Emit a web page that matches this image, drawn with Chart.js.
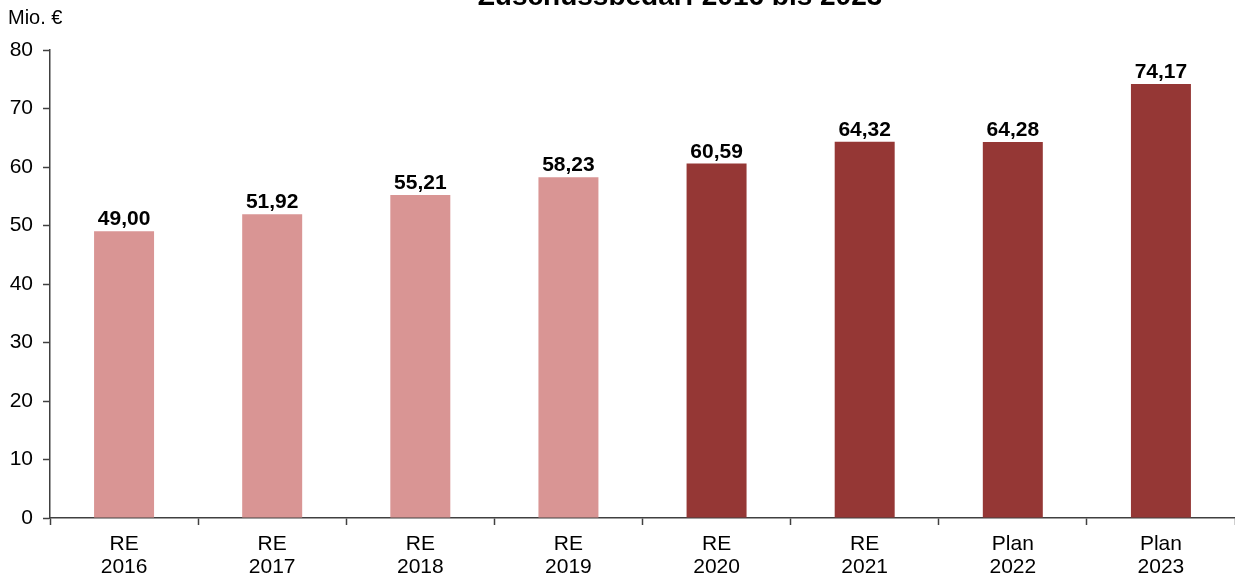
<!DOCTYPE html>
<html lang="de">
<head>
<meta charset="utf-8">
<title>Zuschussbedarf 2016 bis 2023</title>
<script src="https://cdn.jsdelivr.net/npm/chart.js@4/dist/chart.umd.min.js"></script>
<style>
  html, body { margin: 0; padding: 0; background: #ffffff; }
  #wrap { position: relative; width: 1235px; height: 576px; }
</style>
</head>
<body>
<div id="wrap"><canvas id="chart"></canvas></div>
<script>
// Zuschussbedarf in Mio. €
const stages = ["RE", "RE", "RE", "RE", "RE", "RE", "Plan", "Plan"];
const years = ["2016", "2017", "2018", "2019", "2020", "2021", "2022", "2023"];
const values = [49.00, 51.92, 55.21, 58.23, 60.59, 64.32, 64.28, 74.17];
const yTicks = [0, 10, 20, 30, 40, 50, 60, 70, 80];

const titleText = "Zuschussbedarf 2016 bis 2023";
const unitText = "Mio. €";

const lightRed = "#d99594";
const darkRed = "#953735";
const barColors = years.map(y => (Number(y) <= 2019 ? lightRed : darkRed));
const labels = stages.map((s, i) => [s, years[i]]);

const fmt = v => v.toFixed(2).replace(".", ",");

// Headline and unit caption
const captionPlugin = {
  id: "captions",
  afterDraw(chart) {
    const ctx = chart.ctx;
    ctx.save();
    ctx.fillStyle = "#000000";
    ctx.textAlign = "center";
    ctx.textBaseline = "alphabetic";
    ctx.font = "bold 28px 'Liberation Sans', Arial, sans-serif";
    ctx.fillText(titleText, 680, 5);
    ctx.textAlign = "left";
    ctx.font = "20px 'Liberation Sans', Arial, sans-serif";
    ctx.fillText(unitText, 8, 24);
    ctx.restore();
  }
};

// Value labels above each bar
const valueLabelPlugin = {
  id: "valueLabels",
  afterDatasetsDraw(chart) {
    const ctx = chart.ctx;
    const meta = chart.getDatasetMeta(0);
    ctx.save();
    ctx.fillStyle = "#000000";
    ctx.font = "bold 21px 'Liberation Sans', Arial, sans-serif";
    ctx.textAlign = "center";
    ctx.textBaseline = "alphabetic";
    meta.data.forEach((bar, i) => {
      ctx.fillText(fmt(values[i]), bar.x, bar.y - 6);
    });
    ctx.restore();
  }
};

new Chart(document.getElementById("chart"), {
  type: "bar",
  data: {
    labels: labels,
    datasets: [{
      data: values,
      backgroundColor: barColors,
      borderWidth: 0,
      categoryPercentage: 1,
      barPercentage: 0.405
    }]
  },
  options: {
    responsive: true,
    maintainAspectRatio: false,
    animation: false,
    events: [],
    layout: { padding: { top: 50, left: 0, right: 0, bottom: 0 } },
    plugins: {
      legend: { display: false },
      title: { display: false },
      tooltip: { enabled: false }
    },
    scales: {
      x: {
        offset: true,
        grid: {
          offset: true,
          display: true,
          drawOnChartArea: false,
          drawTicks: true,
          tickLength: 7,
          tickWidth: 1.5,
          tickColor: "#404040"
        },
        border: { display: true, color: "#404040", width: 1.5 },
        ticks: {
          color: "#000000",
          padding: 8,
          maxRotation: 0,
          autoSkip: false,
          font: { family: "'Liberation Sans', Arial, sans-serif", size: 21, lineHeight: 1.1 }
        },
        afterFit(scale) { scale.height = 58; }
      },
      y: {
        min: 0,
        max: 80,
        afterBuildTicks(scale) { scale.ticks = yTicks.map(v => ({ value: v })); },
        grid: {
          display: true,
          drawOnChartArea: false,
          drawTicks: true,
          tickLength: 7,
          tickWidth: 1.5,
          tickColor: "#404040"
        },
        border: { display: true, color: "#404040", width: 1.5 },
        ticks: {
          color: "#000000",
          padding: 10,
          font: { family: "'Liberation Sans', Arial, sans-serif", size: 21 }
        },
        afterFit(scale) { scale.width = 50; }
      }
    }
  },
  plugins: [captionPlugin, valueLabelPlugin]
});
</script>
</body>
</html>
